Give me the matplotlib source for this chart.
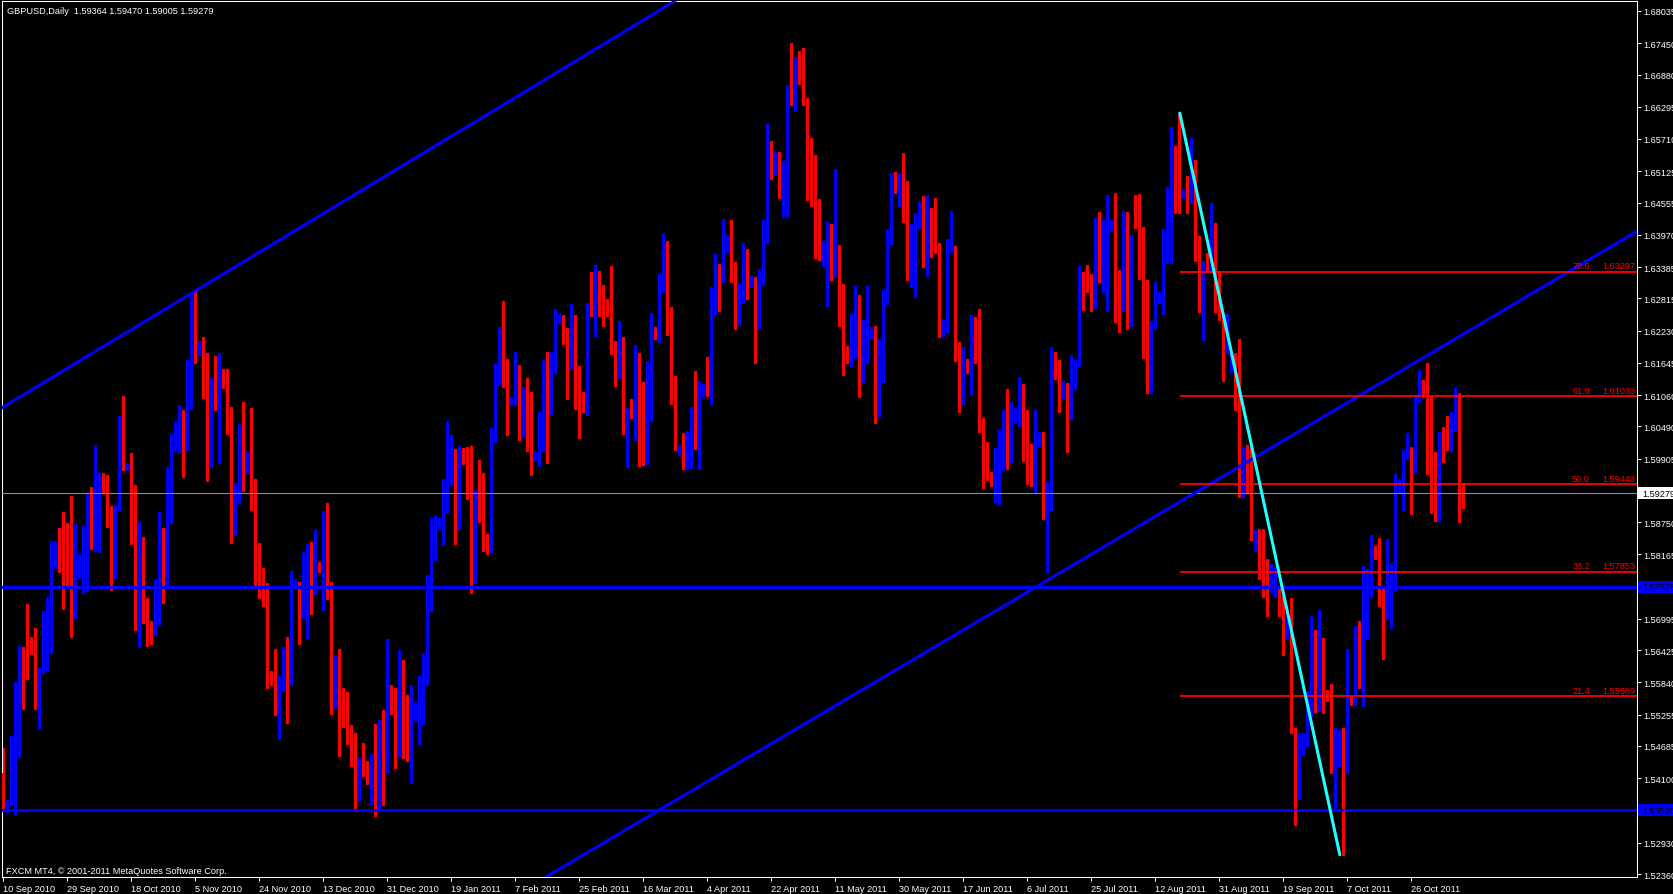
import numpy as np
import matplotlib
matplotlib.use("Agg")
import matplotlib.pyplot as plt
from matplotlib.transforms import blended_transform_factory
from matplotlib.patches import Rectangle

plt.rcParams['font.family'] = ['Liberation Sans', 'DejaVu Sans']

TITLE = "GBPUSD,Daily  1.59364 1.59470 1.59005 1.59279"
COPYRIGHT = "FXCM MT4, \u00a9 2001-2011 MetaQuotes Software Corp."

# daily bars, prices in 1/10000 (e.g. 15419 = 1.5419)
OPEN = [
15419,15354,15366,15424,15530,15630,15624,15658,15641,15543,
15610,15640,15673,15815,15826,15807,15799,15792,15712,15804,
15813,15820,15889,15857,15874,15948,15943,15890,15807,15898,
16001,15973,15977,15890,15695,15840,15710,15679,15671,15704,
15847,15773,15940,16041,16042,16044,16032,16097,16268,16181,
16203,16112,15994,16118,16099,16139,16126,16039,15884,15914,
16048,15970,15999,15941,15798,15787,15760,15590,15590,15546,
15570,15610,
15585,15760,15764,15704,15750,15793,15769,15799,15788,15857,
15760,15554,15628,15519,15508,15503,15461,15400,15441,15440,
15404,15443,15351,15499,15430,15579,15569,15483,15594,15509,
15447,15516,15538,15584,15603,15744,15839,15866,15876,15894,
15954,15971,15902,15993,15991,15981,15812,15925,15922,15851,
15822,16022,16130,16199,16131,16090,16095,16123,16061,16097,
16092,15991,15996,16021,16131,16087,16172,16242,16248,16226,
16155,16231,16140,
16108,16096,16267,16253,16328,16274,16273,16262,16193,16158,
16201,16061,16082,16081,16179,16070,16005,16129,16224,16219,
16305,16356,16245,16117,16005,16010,15978,16015,16079,16020,
16108,16122,16111,16302,16322,16314,16373,16391,16336,16258,
16276,16368,16305,16313,16262,16329,16388,16518,16522,16546,
16488,16506,16646,16642,16729,16695,16642,16488,16486,16399,
16365,16368,16405,16358,16364,16270,16188,16169,16197,16249,
16155,16225,
16225,16226,16069,16176,16279,16391,16483,16482,16499,16464,
16335,16370,16410,16451,16352,16438,16402,16373,16225,16228,
16365,16370,16198,16159,16169,16152,16233,16219,16046,16018,
15960,15949,15984,15984,16064,16015,16057,16072,16082,16060,
16015,15971,16017,16028,15897,15923,16182,16152,16115,16117,
16064,16123,16162,16321,16321,16297,16278,16417,16323,16355,
16406,16412,16311,16276,16435,16238,16464,16420,16318,16301,
16109,16227,16278,
16283,16376,16439,16531,16477,16465,16474,16454,16495,16364,
16289,16350,16346,16400,16311,16246,16192,16151,16161,16088,
15948,15971,15953,15847,15855,15844,15781,15767,15776,15742,
15709,15668,15733,15498,15383,15467,15469,15549,15630,15549,
15607,15569,15569,15429,15460,15465,15435,15555,15549,15643,
15578,15731,15740,15820,15814,15745,15700,15769,15796,15933,
15941,15993,16001,15968,16095,16133,16106,16073,15937,15905,
16031,16049,
16020,16062,16095,15936,
]
HIGH = [
15465,15371,15486,15585,15651,15648,15727,15667,15683,15610,
15713,15740,15840,15840,15865,15894,15873,15922,15872,15817,
15868,15928,15939,16015,15964,15964,15960,15904,15906,16067,
16104,15982,16001,15942,15876,15849,15738,15695,15770,15894,
15865,15976,16036,16057,16088,16079,16170,16289,16293,16204,
16212,16183,16136,16176,16183,16153,16153,16084,15947,16053,
16094,16004,16082,15954,15837,15792,15765,15604,15645,15595,
15648,15667,
15787,15771,15767,15821,15835,15839,15861,15802,15896,15910,
15767,15633,15645,15573,15567,15507,15493,15447,15474,15441,
15454,15509,15516,15534,15663,15580,15573,15643,15625,15562,
15579,15549,15595,15638,15779,15882,15886,15882,15954,16059,
16034,16008,16014,16009,16011,16014,15933,15988,15965,15853,
16046,16163,16229,16277,16171,16100,16184,16161,16121,16137,
16111,16005,16075,16170,16184,16184,16262,16254,16251,16227,
16272,16252,16158,
16112,16274,16329,16342,16332,16305,16281,16340,16205,16240,
16211,16082,16098,16197,16182,16130,16168,16255,16229,16326,
16400,16386,16265,16141,16015,16037,16041,16084,16150,16132,
16126,16175,16303,16362,16344,16426,16397,16424,16347,16308,
16382,16371,16323,16320,16335,16424,16598,16568,16550,16547,
16531,16669,16746,16720,16730,16736,16646,16573,16542,16462,
16385,16421,16416,16517,16379,16307,16195,16253,16304,16287,
16243,16304,
16229,16231,16208,16296,16408,16509,16511,16508,16545,16494,
16417,16436,16456,16467,16469,16445,16463,16382,16244,16390,
16440,16376,16202,16193,16172,16251,16247,16262,16064,16020,
15966,16010,16043,16079,16117,16093,16082,16139,16126,16078,
16017,16078,16038,16038,15948,16194,16185,16169,16132,16127,
16178,16169,16340,16330,16342,16326,16427,16439,16424,16469,
16423,16473,16333,16441,16438,16396,16469,16471,16411,16314,
16241,16312,16293,
16407,16483,16592,16558,16618,16481,16504,16572,16533,16395,
16350,16364,16454,16418,16332,16251,16254,16183,16183,16208,
16011,16016,16011,15860,15862,15862,15808,15799,15794,15754,
15740,15713,15738,15501,15492,15492,15569,15704,15679,15715,
15665,15570,15582,15501,15498,15501,15645,15557,15686,15695,
15796,15790,15851,15831,15847,15754,15844,15801,15962,15953,
16007,16037,16011,16102,16151,16133,16165,16104,16002,16039,
16048,16067,
16075,16118,16110,15947,
]
LOW = [
15350,15349,15363,15344,15448,15535,15591,15635,15535,15501,
15601,15607,15638,15792,15784,15717,15760,15667,15701,15773,
15747,15750,15826,15823,15820,15929,15867,15751,15773,15898,
15970,15970,15835,15679,15649,15692,15651,15653,15671,15688,
15728,15760,15874,16004,16001,15957,16006,16081,16164,16179,
16101,15949,15976,16079,15982,16118,16036,15837,15851,15910,
15932,15965,15897,15760,15738,15723,15573,15580,15524,15482,
15568,15510,
15579,15754,15653,15701,15664,15709,15745,15785,15715,15736,
15527,15538,15450,15503,15472,15432,15353,15369,15414,15400,
15364,15341,15351,15362,15421,15527,15428,15450,15447,15441,
15402,15513,15472,15509,15580,15714,15806,15863,15833,15892,
15942,15835,15863,15981,15917,15747,15765,15876,15822,15818,
15820,16020,16125,16120,16033,16087,16087,16024,16030,16005,
15960,15988,15977,16005,15983,16072,16146,16236,16199,16098,
16153,16080,16028,
16076,16069,16249,16213,16249,16232,16250,16181,16123,16136,
16035,15975,16064,16025,15977,15979,15981,16058,16208,16202,
16293,16215,16090,16007,15997,15972,15972,15973,16008,15972,
16102,16105,16089,16253,16259,16311,16365,16311,16225,16234,
16273,16281,16302,16164,16227,16305,16383,16499,16505,16464,
16429,16432,16632,16621,16671,16633,16461,16450,16355,16352,
16340,16267,16314,16320,16232,16143,16164,16158,16173,16103,
16129,16164,
16208,16055,16066,16129,16271,16380,16473,16449,16421,16314,
16303,16284,16408,16338,16322,16356,16364,16211,16214,16220,
16365,16167,16076,16090,16146,16106,16165,16038,15937,15951,
15941,15911,15908,15969,15971,15985,16055,16050,15987,15944,
15941,15929,16014,15881,15785,15898,16135,16075,16100,16002,
16063,16117,16159,16261,16293,16259,16264,16311,16293,16258,
16403,16239,16221,16258,16225,16231,16409,16317,16173,16109,
16109,16226,16274,
16254,16346,16346,16436,16436,16463,16436,16454,16350,16257,
16206,16332,16328,16257,16242,16131,16183,16147,16079,15921,
15921,15930,15842,15822,15772,15740,15704,15749,15740,15704,
15634,15663,15492,15325,15372,15453,15469,15523,15531,15532,
15528,15551,15420,15352,15433,15271,15420,15543,15543,15573,
15541,15663,15740,15808,15722,15627,15700,15682,15751,15930,
15898,15989,15889,15966,16093,16102,15962,15892,15878,15878,
15984,16007,
16005,16040,15875,15900,
]
CLOSE = [
15354,15367,15426,15530,15630,15623,15619,15640,15543,15610,
15641,15674,15826,15826,15805,15798,15792,15712,15834,15815,
15820,15889,15857,15875,15954,15942,15889,15807,15899,16001,
15981,15977,15889,15695,15840,15709,15676,15671,15704,15847,
15773,15942,16021,16044,16045,16029,16097,16268,16183,16203,
16111,15995,16118,16099,16136,16124,16037,15884,15915,16048,
16001,16000,15940,15796,15785,15760,15590,15585,15546,15571,
15610,15585,
15769,15765,15704,15752,15791,15769,15808,15788,15857,15760,
15554,15628,15515,15506,15501,15460,15400,15440,15437,15404,
15443,15351,15499,15430,15594,15567,15483,15594,15507,15443,
15544,15539,15585,15603,15745,15841,15871,15878,15894,15955,
15971,15902,16003,15989,15981,15812,15925,15921,15858,15822,
16024,16133,16199,16130,16095,16097,16123,16061,16097,16092,
15999,15998,16022,16131,16087,16173,16232,16246,16224,16155,
16231,16140,16113,
16094,16267,16253,16328,16271,16268,16262,16193,16158,16201,
16061,16082,16081,16179,16069,16005,16129,16222,16219,16306,
16356,16245,16116,16015,16010,15978,16017,16079,16020,16114,
16121,16111,16303,16322,16314,16362,16391,16336,16258,16276,
16368,16293,16313,16262,16329,16390,16518,16512,16546,16488,
16508,16645,16642,16700,16693,16641,16486,16485,16397,16394,
16370,16406,16358,16364,16268,16188,16169,16197,16248,16155,
16226,16248,
16227,16069,16176,16281,16391,16479,16482,16499,16463,16335,
16371,16426,16451,16352,16438,16402,16371,16223,16229,16365,
16370,16198,16159,16176,16152,16233,16217,16044,16018,15966,
15949,15984,15985,16064,16015,16072,16075,16082,16058,16014,
15971,16043,16027,15897,15925,16182,16150,16129,16117,16064,
16124,16164,16321,16296,16296,16278,16417,16322,16356,16409,
16412,16310,16276,16435,16238,16388,16419,16318,16300,16109,
16227,16278,16282,
16377,16441,16531,16474,16472,16474,16456,16493,16364,16289,
16349,16343,16398,16332,16246,16192,16210,16165,16088,15948,
15971,15953,15878,15853,15817,15781,15767,15794,15787,15709,
15670,15704,15498,15383,15487,15472,15537,15630,15546,15607,
15587,15564,15429,15462,15465,15435,15555,15546,15618,15578,
15731,15740,15805,15813,15745,15700,15769,15796,15957,15939,
15995,16001,15968,16095,16126,16104,16073,15937,15905,16031,
16013,16020,
16062,16095,15936,15928,
]

DATE_LABELS = ["10 Sep 2010", "29 Sep 2010", "18 Oct 2010", "5 Nov 2010", "24 Nov 2010",
               "13 Dec 2010", "31 Dec 2010", "19 Jan 2011", "7 Feb 2011", "25 Feb 2011",
               "16 Mar 2011", "4 Apr 2011", "22 Apr 2011", "11 May 2011", "30 May 2011",
               "17 Jun 2011", "6 Jul 2011", "25 Jul 2011", "12 Aug 2011", "31 Aug 2011",
               "19 Sep 2011", "7 Oct 2011", "26 Oct 2011"]
DATE_STEP = 16  # bars between date labels

PRICE_TICKS = [1.68035, 1.67450, 1.66880, 1.66295, 1.65710, 1.65125, 1.64555, 1.63970,
               1.63385, 1.62815, 1.62230, 1.61645, 1.61060, 1.60490, 1.59905, 1.58750,
               1.58165, 1.56995, 1.56425, 1.55840, 1.55255, 1.54685, 1.54100, 1.52930,
               1.52360]

BID = 1.59279
HLINES = [1.57578, 1.53520]
FIB_NAMES = ["78.6", "61.8", "50.0", "38.2", "21.4"]
FIB_PRICES = [1.63297, 1.61033, 1.59443, 1.57853, 1.55589]
FIB_FROM = (294.2, 1.6618)
FIB_TO = (334.2, 1.5271)
CHANNEL_UPPER = [(0.0, 1.6084), (150.0, 1.67425)]
CHANNEL_LOWER = [(258.4, 1.5758), (408.0, 1.64013)]

W, H = 1674, 895
fig = plt.figure(figsize=(W / 100, H / 100), dpi=100, facecolor="black")
left_px, right_px, top_px, bot_px = 2.0, 1636.7, 2.3, 877.7
ax = fig.add_axes([left_px / W, 1 - bot_px / H, (right_px - left_px) / W, (bot_px - top_px) / H])
ax.set_facecolor("black")
for s in ax.spines.values():
    s.set_color("white")
    s.set_linewidth(0.75)

o = np.array(OPEN) / 1e4
h = np.array(HIGH) / 1e4
l = np.array(LOW) / 1e4
c = np.array(CLOSE) / 1e4
x = np.arange(len(o))
up = c >= o
cols = np.where(up, "#0000ff", "#ff0000")

ax.vlines(x, l, h, colors=cols, linewidth=0.75, antialiased=False, zorder=2)
body_lo = np.minimum(o, c)
body_h = np.maximum(np.abs(c - o), 0.00018)
ax.bar(x, body_h, bottom=body_lo, width=0.75, color=cols, linewidth=0,
       antialiased=False, zorder=3)

ax.set_xlim(-0.25, 408.42)
ax.set_ylim(1.52311, 1.68211)

# channel lines
ax.axline(CHANNEL_UPPER[0], CHANNEL_UPPER[1], color="#0000ff", linewidth=2.2, zorder=5)
ax.axline(CHANNEL_LOWER[0], CHANNEL_LOWER[1], color="#0000ff", linewidth=2.2, zorder=5)
for hl in HLINES:
    ax.axhline(hl, color="#0000ff", linewidth=2.2, zorder=5)
ax.axhline(BID, color="#8090a0", linewidth=0.8, zorder=4)

# fibonacci
xr = ax.get_xlim()[1]
for name, lvl in zip(FIB_NAMES, FIB_PRICES):
    ax.plot([FIB_FROM[0], xr], [lvl, lvl], color="#ff0000", linewidth=1.3, zorder=5,
            solid_capstyle="butt")
    ax.annotate(name, (396.75, lvl), xytext=(0, 1), textcoords="offset points",
                ha="right", va="bottom", color="#ff0000", fontsize=6.6, zorder=6)
    ax.annotate(f"{lvl:.5f}", (408.0, lvl), xytext=(0, 1), textcoords="offset points",
                ha="right", va="bottom", color="#ff0000", fontsize=6.6, zorder=6)
ax.plot([FIB_FROM[0], FIB_TO[0]], [FIB_FROM[1], FIB_TO[1]], color="#20ffff",
        linewidth=2.2, zorder=6, solid_capstyle="round")

# price axis
ax.yaxis.tick_right()
ax.set_yticks(PRICE_TICKS)
ax.set_yticklabels([f"{v:.5f}" for v in PRICE_TICKS])
ax.tick_params(axis="y", direction="out", length=3, width=0.75, color="white",
               labelcolor="white", labelsize=6.6, pad=2)

# date axis
ax.set_xticks([i * DATE_STEP for i in range(len(DATE_LABELS))])
ax.set_xticklabels(DATE_LABELS, ha="left")
ax.tick_params(axis="x", direction="out", length=3, width=0.75, color="white",
               labelcolor="white", labelsize=6.6, pad=2)

# price boxes on the right scale
tr = blended_transform_factory(fig.transFigure, ax.transData)
px_price = (1.68211 - 1.52311) / (bot_px - top_px)
for val, fc in [(BID, "white")] + [(v, "#0000ff") for v in HLINES]:
    ax.add_patch(Rectangle((1638 / W, val - 6 * px_price), (W - 1638) / W, 12 * px_price,
                           transform=tr, facecolor=fc, edgecolor="none", clip_on=False, zorder=7))
    ax.text(1642 / W, val, f"{val:.5f}", transform=tr, color="black", fontsize=6.6,
            ha="left", va="center", clip_on=False, zorder=8)

fig.text(7 / W, 1 - 11 / H, TITLE, color="white", fontsize=6.6, ha="left", va="center")
fig.text(6 / W, 1 - 872 / H, COPYRIGHT, color="white", fontsize=6.6, ha="left", va="center")

fig.savefig("out.png", dpi=100, facecolor="black")
